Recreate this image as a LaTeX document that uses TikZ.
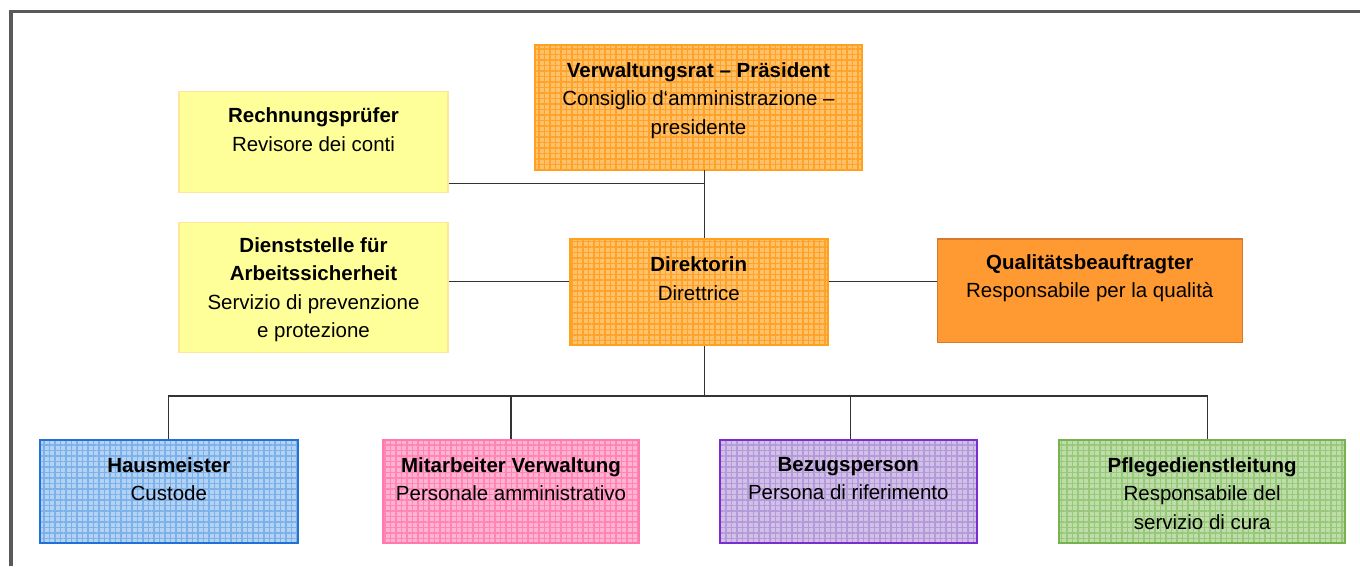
\documentclass[tikz,border=0pt]{standalone}
\usepackage{fontspec}
\setmainfont{Liberation Sans}
\usetikzlibrary{positioning,patterns.meta}

\definecolor{frameGray}{HTML}{595959}
\definecolor{lineGray}{HTML}{333333}
\definecolor{orBase}{HTML}{FFC26A}
\definecolor{orGrid}{HTML}{FFA22A}
\definecolor{orEdge}{HTML}{FFA11F}
\definecolor{yeFill}{HTML}{FFFF99}
\definecolor{yeEdge}{HTML}{FFE699}
\definecolor{qbFill}{HTML}{FF9A33}
\definecolor{qbEdge}{HTML}{D8782C}
\definecolor{blBase}{HTML}{B4D2F3}
\definecolor{blGrid}{HTML}{7DB1EA}
\definecolor{blEdge}{HTML}{2271D6}
\definecolor{piBase}{HTML}{FFB3D1}
\definecolor{piGrid}{HTML}{FF85B5}
\definecolor{piEdge}{HTML}{FF78AE}
\definecolor{puBase}{HTML}{D3C0E8}
\definecolor{puGrid}{HTML}{B39AD8}
\definecolor{puEdge}{HTML}{7A2DD1}
\definecolor{grBase}{HTML}{BFDDA8}
\definecolor{grGrid}{HTML}{98C87C}
\definecolor{grEdge}{HTML}{76B34F}

\tikzset{
  box/.style={rectangle, draw, line width=2pt, inner sep=0pt},
  plaid/.style 2 args={preaction={fill=#1}, pattern={Hatch[distance=5.5pt, line width=1.2pt]}, pattern color=#2},
  txt/.style={align=center, inner sep=0pt, font=\fontsize{20.5}{28.5}\selectfont},
  conn/.style={draw=lineGray, line width=1.2pt},
}

\begin{document}
\begin{tikzpicture}[x=1pt,y=-1pt]
\useasboundingbox (0,0) rectangle (1360,566);
% frame
\draw[frameGray, line width=3.5pt] (10.8,566) -- (10.8,11.7) -- (1360,11.7);

% top level
\node[box, plaid={orBase}{orGrid}, draw=orEdge, minimum width=327, minimum height=125] (vr) at (698.5,107) {};
\node[txt, below=18.5pt of vr.north] (vr-t) {\textbf{Verwaltungsrat – Präsident}\\Consiglio d‘amministrazione –\\presidente};

\node[box, fill=yeFill, draw=yeEdge, line width=1.5pt, minimum width=269, minimum height=100.6] (rp) at (313.5,142) {};
\node[txt, below=16.5pt of rp.north] (rp-t) {\textbf{Rechnungsprüfer}\\Revisore dei conti};

\node[box, fill=yeFill, draw=yeEdge, line width=1.5pt, minimum width=269, minimum height=130.4] (ds) at (313.5,287.5) {};
\node[txt, below=15.5pt of ds.north] (ds-t) {\textbf{Dienststelle für}\\\textbf{Arbeitssicherheit}\\Servizio di prevenzione\\e protezione};

\node[box, plaid={orBase}{orGrid}, draw=orEdge, minimum width=257.7, minimum height=106] (dir) at (698.8,292) {};
\node[txt, below=18.5pt of dir.north] (dir-t) {\textbf{Direktorin}\\Direttrice};

\node[box, fill=qbFill, draw=qbEdge, line width=1.5pt, minimum width=305, minimum height=103.7] (qb) at (1089.8,290.8) {};
\node[txt, below=16pt of qb.north] (qb-t) {\textbf{Qualitätsbeauftragter}\\Responsabile per la qualità};

% bottom row
\node[box, plaid={blBase}{blGrid}, draw=blEdge, minimum width=257.7, minimum height=102.7] (hm) at (168.8,491.3) {};
\node[txt, below=18pt of hm.north] (hm-t) {\textbf{Hausmeister}\\Custode};

\node[box, plaid={piBase}{piGrid}, draw=piEdge, minimum width=256.6, minimum height=102.7] (mv) at (511,491.3) {};
\node[txt, below=18pt of mv.north] (mv-t) {\textbf{Mitarbeiter Verwaltung}\\Personale amministrativo};

\node[box, plaid={puBase}{puGrid}, draw=puEdge, minimum width=256.7, minimum height=102.7] (bp) at (848.3,491.3) {};
\node[txt, below=18pt of bp.north] (bp-t) {\textbf{Bezugsperson}\\Persona di riferimento};

\node[box, plaid={grBase}{grGrid}, draw=grEdge, minimum width=285.7, minimum height=102.7] (pd) at (1202.2,491.3) {};
\node[txt, below=18pt of pd.north] (pd-t) {\textbf{Pflegedienstleitung}\\Responsabile del\\servizio di cura};

% connectors
\coordinate (spine) at (704.3,0);
\coordinate (rpj) at (704.3,183.7);
\coordinate (mid) at (704.3,281.7);
\coordinate (bus) at (704.3,396);
\draw[conn] (vr.south -| spine) -- (dir.north -| spine);
\draw[conn] (rp.east |- rpj) -- (rpj);
\draw[conn] (ds.east |- mid) -- (dir.west |- mid);
\draw[conn] (dir.east |- mid) -- (qb.west |- mid);
\draw[conn] (dir.south -| spine) -- (bus);
\draw[conn] (hm.north) -- (hm.north |- bus) -- ([xshift=5]pd.north |- bus) -- ([xshift=5]pd.north);
\draw[conn] (mv.north) -- (mv.north |- bus);
\draw[conn] ([xshift=2.4]bp.north) -- ([xshift=2.4]bp.north |- bus);
\end{tikzpicture}
\end{document}
